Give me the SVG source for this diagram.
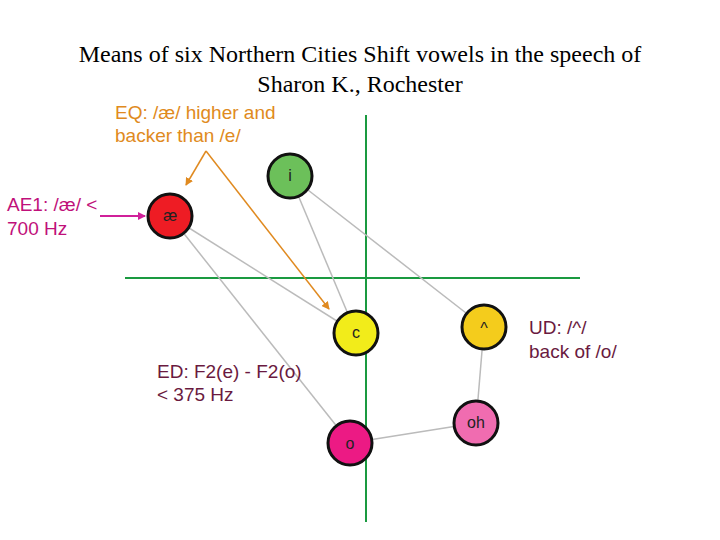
<svg xmlns="http://www.w3.org/2000/svg" width="720" height="540" viewBox="0 0 720 540">
<style>
.t{font-family:"Liberation Serif",serif;font-size:24px;fill:#000;text-anchor:middle}
.s{font-family:"Liberation Sans",sans-serif;font-size:19px}
.n{stroke:#111;stroke-width:3}
.nl{font-family:"Liberation Sans",sans-serif;font-size:16px;fill:#222;text-anchor:middle}
.g{stroke:#bbb;stroke-width:1.5;fill:none}
</style>
<defs>
<marker id="ao" markerWidth="8" markerHeight="8" refX="7" refY="4" orient="auto" markerUnits="userSpaceOnUse"><path d="M0,0 L8,4 L0,8 z" fill="#e08a20"/></marker>
<marker id="am" markerWidth="8" markerHeight="8" refX="7" refY="4" orient="auto" markerUnits="userSpaceOnUse"><path d="M0,0 L8,4 L0,8 z" fill="#d0209a"/></marker>
</defs>
<rect width="720" height="540" fill="#fff"/>
<text class="t" x="360" y="62">Means of six Northern Cities Shift vowels in the speech of</text>
<text class="t" x="360" y="92">Sharon K., Rochester</text>
<g id="axes" stroke="#1a9a40" stroke-width="2">
<line x1="125" y1="278" x2="580" y2="278"/>
<line x1="366" y1="115" x2="366" y2="522"/>
</g>
<g id="connectors">
<line class="g" x1="290" y1="176" x2="356" y2="333"/>
<line class="g" x1="290" y1="176" x2="484" y2="327"/>
<line class="g" x1="170" y1="216" x2="356" y2="333"/>
<line class="g" x1="170" y1="216" x2="350" y2="443"/>
<line class="g" x1="484" y1="327" x2="476" y2="423"/>
<line class="g" x1="476" y1="423" x2="350" y2="443"/>
<g stroke="#e08a20" stroke-width="1.5">
<line x1="206" y1="151" x2="186" y2="185" marker-end="url(#ao)"/>
<line x1="206" y1="151" x2="329" y2="309" marker-end="url(#ao)"/>
</g>
<line x1="100" y1="216" x2="145" y2="216" stroke="#d0209a" stroke-width="2" marker-end="url(#am)"/>
</g>
<g id="node-i"><circle class="n" cx="290" cy="176" r="22" fill="#6cc05a"/><text class="nl" x="290" y="181">i</text></g>
<g id="node-ae"><circle class="n" cx="170" cy="216" r="22" fill="#ee1c24"/><text class="nl" x="170" y="221">æ</text></g>
<g id="node-c"><circle class="n" cx="356" cy="333" r="22" fill="#f2ec1a"/><text class="nl" x="356" y="338">c</text></g>
<g id="node-caret"><circle class="n" cx="484" cy="327" r="22" fill="#f4cc1c"/><text class="nl" x="484" y="334">^</text></g>
<g id="node-oh"><circle class="n" cx="476" cy="423" r="22" fill="#f06cb0"/><text class="nl" x="476" y="428">oh</text></g>
<g id="node-o"><circle class="n" cx="350" cy="443" r="22" fill="#ec1a84"/><text class="nl" x="350" y="449">o</text></g>
<g class="s">
<text x="115" y="119" fill="#e08a20">EQ: /æ/ higher and</text>
<text x="115" y="142" fill="#e08a20">backer than /e/</text>
<text x="7" y="211" fill="#c0107a">AE1: /æ/ &lt;</text>
<text x="7" y="235" fill="#c0107a">700 Hz</text>
<text x="157" y="378" fill="#6a1a40">ED: F2(e) - F2(o)</text>
<text x="157" y="401" fill="#6a1a40">&lt; 375 Hz</text>
<text x="529" y="334" fill="#6a1a40">UD: /^/</text>
<text x="529" y="358" fill="#6a1a40">back of /o/</text>
</g>
</svg>
